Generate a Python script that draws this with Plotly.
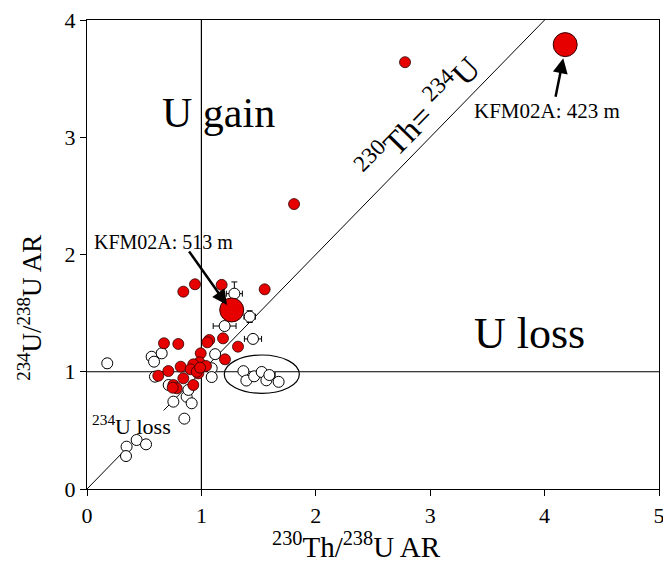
import plotly.graph_objects as go

# ---- data ----
red_x = [0.842, 0.944, 1.177, 1.553, 1.81, 2.78,
         0.673, 0.798, 1.069, 1.052, 1.189, 1.32, 1.206,
         0.994, 0.982, 0.929, 1.040, 0.819, 0.906, 0.973, 0.959,
         0.711, 0.623, 0.842, 0.929, 0.755, 0.784, 0.749, 0.988]
red_y = [1.683, 1.746, 1.741, 1.703, 2.43, 3.64,
         1.243, 1.237, 1.271, 1.251, 1.285, 1.214, 1.106,
         1.157, 1.080, 1.063, 1.049, 1.043, 1.021, 0.986, 1.000,
         1.006, 0.966, 0.944, 0.887, 0.887, 0.859, 0.864, 1.035]

big_x = [4.18, 1.265]
big_y = [3.79, 1.527]

white_x = [0.177, 0.565, 0.653, 0.586, 0.594, 0.714, 0.755, 0.871, 0.915, 0.886,
           0.851, 0.346, 0.434, 0.516, 0.341, 1.09, 1.09, 1.12,
           1.288, 1.422, 1.203, 1.451,
           1.367, 1.393, 1.461, 1.527, 1.568, 1.594, 1.675]
white_y = [1.072, 1.128, 1.157, 1.086, 0.958, 0.887, 0.745, 0.787, 0.731, 0.845,
           0.600, 0.361, 0.418, 0.381, 0.281, 1.030, 0.955, 1.150,
           1.666, 1.470, 1.390, 1.280,
           1.005, 0.925, 0.961, 0.998, 0.927, 0.972, 0.914]
white_xerr = [0.0, 0.04, 0.04, 0.03, 0.0, 0.0, 0.0, 0.0, 0.0, 0.0,
              0.0, 0.0, 0.0, 0.0, 0.0, 0.0, 0.0, 0.04,
              0.07, 0.05, 0.10, 0.075,
              0.0, 0.0, 0.03, 0.0, 0.0, 0.05, 0.0]
white_yerr = [0.04, 0.03, 0.03, 0.0, 0.03, 0.0, 0.0, 0.0, 0.0, 0.0,
              0.0, 0.0, 0.0, 0.0, 0.0, 0.0, 0.0, 0.03,
              0.10, 0.05, 0.0, 0.0,
              0.03, 0.0, 0.0, 0.03, 0.0, 0.0, 0.0]

x_ticks = [0, 1, 2, 3, 4, 5]
y_ticks = [0, 1, 2, 3, 4]

FONT = "Liberation Serif, Times New Roman, serif"

fig = go.Figure()

# reference lines
fig.add_shape(type="line", x0=1, x1=1, y0=0, y1=4, line=dict(color="black", width=1.2), layer="below")
fig.add_shape(type="line", x0=0, x1=5, y0=1, y1=1, line=dict(color="black", width=1.2), layer="below")
# 1:1 equilibrium line (broken where the label sits)
fig.add_shape(type="line", x0=0, x1=0.31, y0=0, y1=0.31, line=dict(color="black", width=1), layer="below")
fig.add_shape(type="line", x0=0.67, x1=4, y0=0.67, y1=4, line=dict(color="black", width=1), layer="below")
# ellipse
fig.add_shape(type="circle", x0=1.2, x1=1.856, y0=0.816, y1=1.143, line=dict(color="black", width=1.2))

fig.add_trace(go.Scatter(
    x=white_x, y=white_y, mode="markers",
    marker=dict(size=11, color="white", line=dict(color="black", width=1)),
    error_x=dict(type="data", array=white_xerr, color="black", thickness=1, width=3),
    error_y=dict(type="data", array=white_yerr, color="black", thickness=1, width=3),
    showlegend=False, hoverinfo="x+y"))

fig.add_trace(go.Scatter(
    x=red_x, y=red_y, mode="markers",
    marker=dict(size=11, color="#e60000", line=dict(color="#300000", width=0.8)),
    showlegend=False))

fig.add_trace(go.Scatter(
    x=big_x, y=big_y, mode="markers",
    marker=dict(size=24, color="#e60000", line=dict(color="#300000", width=1)),
    showlegend=False))

ann = [
    dict(x=1.15, y=3.21, text="U gain", showarrow=False, font=dict(size=42)),
    dict(x=3.87, y=1.33, text="U loss", showarrow=False, font=dict(size=44)),
    dict(x=2.887, y=3.175, text="<sup>230</sup>Th= <sup>234</sup>U", showarrow=False,
         textangle=-45.7, font=dict(size=33)),
    dict(x=0.393, y=0.546, text="<sup>234</sup>U loss", showarrow=False, font=dict(size=22)),
    dict(x=4.02, y=3.22, text="KFM02A: 423 m", showarrow=False, font=dict(size=21)),
    dict(x=0.665, y=2.11, text="KFM02A: 513 m", showarrow=False, font=dict(size=20)),
    # arrows
    dict(x=4.163, y=3.673, ax=-8, ay=40, text="", showarrow=True, arrowhead=2,
         arrowsize=1.2, arrowwidth=2.5, arrowcolor="black"),
    dict(x=1.224, y=1.57, ax=-39, ay=-55, text="", showarrow=True, arrowhead=2,
         arrowsize=1.2, arrowwidth=2.5, arrowcolor="black"),
    # axis titles
    dict(xref="paper", yref="paper", x=0.472, y=-0.12, xanchor="center", yanchor="middle",
         text="<sup>230</sup>Th/<sup>238</sup>U AR", showarrow=False, font=dict(size=29)),
    dict(xref="paper", yref="paper", x=-0.1, y=0.386, xanchor="center", yanchor="middle",
         text="<sup>234</sup>U/<sup>238</sup>U AR", showarrow=False, textangle=-90,
         font=dict(size=27)),
]
for a in ann:
    a.setdefault("xref", "x")
    a.setdefault("yref", "y")
    f = a.get("font", {})
    f.update(family=FONT, color="black")
    a["font"] = f
    fig.add_annotation(**a)

axis_common = dict(
    showgrid=False, zeroline=False, showline=True, mirror=True,
    linecolor="black", linewidth=1.2, ticks="outside", ticklen=6,
    tickcolor="black", tickfont=dict(family=FONT, size=22, color="black"),
    ticklabeloverflow="allow", automargin=False,
)
fig.update_xaxes(range=[0, 5], tickvals=x_ticks, ticktext=[str(t) for t in x_ticks],
                 **axis_common)
fig.update_yaxes(range=[0, 4], tickvals=y_ticks, ticktext=[str(t) for t in y_ticks],
                 **axis_common)

fig.update_layout(
    width=663, height=564,
    margin=dict(l=87, r=4, t=20, b=75, autoexpand=False),
    paper_bgcolor="white", plot_bgcolor="white",
    font=dict(family=FONT),
)

fig.write_html("out.html")
